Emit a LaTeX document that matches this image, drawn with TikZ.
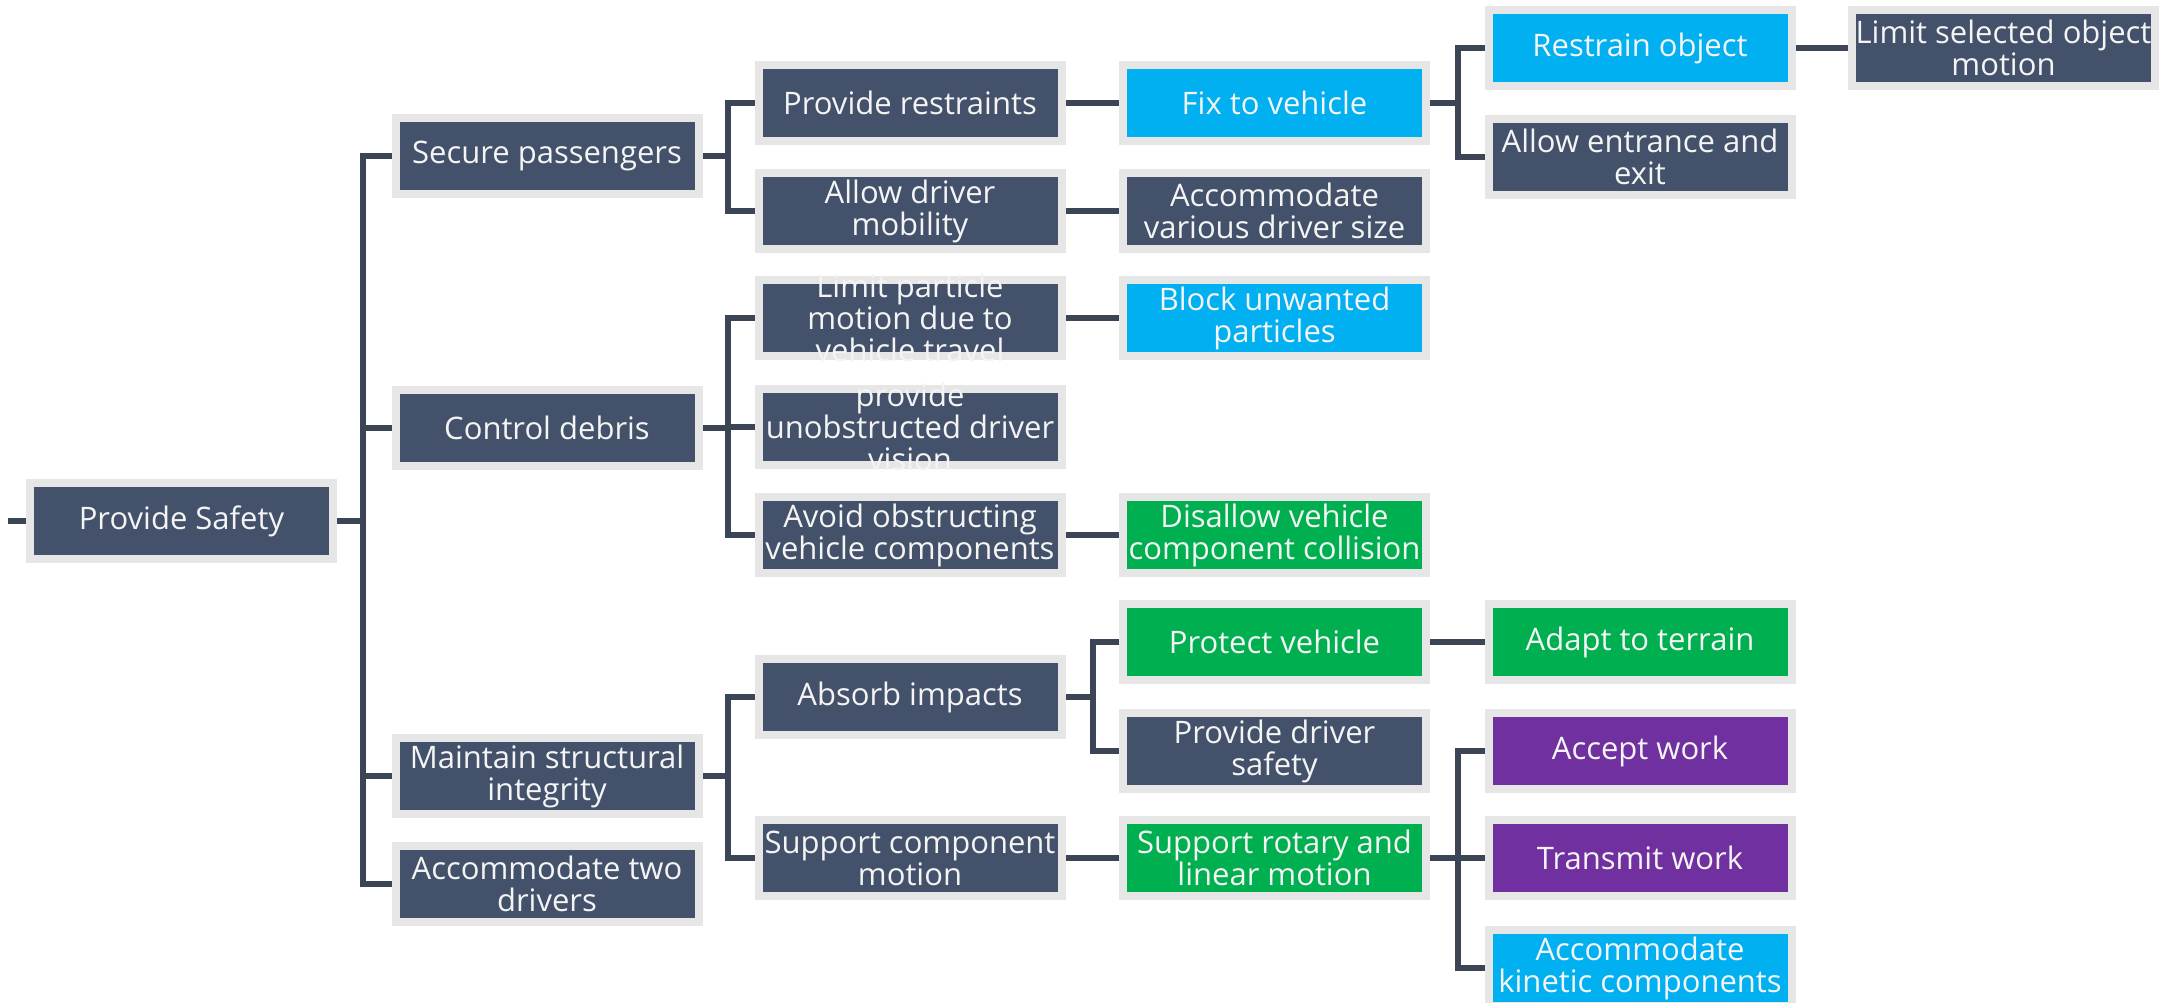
\documentclass[tikz,border=0pt]{standalone}
\usepackage{fontspec}
\setmainfont{Open Sans}
\definecolor{dk}{HTML}{43526A}
\definecolor{cy}{HTML}{00B0F0}
\definecolor{gr}{HTML}{00B050}
\definecolor{pu}{HTML}{7030A0}
\definecolor{bordergray}{HTML}{E6E6E6}
\definecolor{linecol}{HTML}{3B4556}
\definecolor{txtwhite}{HTML}{F4F4F4}
\pgfdeclarelayer{bg}
\pgfdeclarelayer{lines}
\pgfsetlayers{bg,lines,main}
\tikzset{
  boxshape/.style={rectangle, draw=bordergray, line width=4pt, minimum width=151.5pt, minimum height=38pt, inner sep=0pt},
  boxtext/.style={text=txtwhite, align=center, font=\fontsize{15.5pt}{16pt}\selectfont, inner sep=0pt},
  conn/.style={draw=linecol, line width=3pt},
}
\newcommand\myBox[5]{\node[boxshape, fill=#4] (#1) at (#2,#3) {};}
\newcommand\myText[2]{\node[boxtext] (#1-t) at (#1.center) {#2};}
\begin{document}
\begin{tikzpicture}[x=0.5pt, y=-0.5pt]
\begin{pgfonlayer}{bg}
\fill[white] (0,0) rectangle (2177,1002);
\end{pgfonlayer}
\useasboundingbox (0,0) rectangle (2177,1002);
% boxes
\myBox{ps}{181.5}{521}{dk}{}
\myBox{sp}{547}{156}{dk}{}
\myBox{cd}{547}{428}{dk}{}
\myBox{ms}{547}{776}{dk}{}
\myBox{ad}{547}{884}{dk}{}
\myBox{pr}{910}{103}{dk}{}
\myBox{adm}{910}{211}{dk}{}
\myBox{lp}{910}{318}{dk}{}
\myBox{pu}{910}{427}{dk}{}
\myBox{ao}{910}{535}{dk}{}
\myBox{ai}{910}{697}{dk}{}
\myBox{sc}{910}{858}{dk}{}
\myBox{fv}{1274.5}{103}{cy}{}
\myBox{av}{1274.5}{211}{dk}{}
\myBox{bu}{1274.5}{318}{cy}{}
\myBox{dv}{1274.5}{535}{gr}{}
\myBox{pv}{1274.5}{642}{gr}{}
\myBox{pd}{1274.5}{751}{dk}{}
\myBox{sr}{1274.5}{858}{gr}{}
\myBox{ro}{1640}{48}{cy}{}
\myBox{ae}{1640}{157}{dk}{}
\myBox{at}{1640}{642}{gr}{}
\myBox{aw}{1640}{751}{pu}{}
\myBox{tw}{1640}{858}{pu}{}
\myBox{ak}{1640}{968}{cy}{}
\myBox{ls}{2003.5}{48}{dk}{}
% texts
\myText{ps}{Provide Safety}
\myText{sp}{Secure passengers}
\myText{cd}{Control debris}
\myText{ms}{Maintain structural\\integrity}
\myText{ad}{Accommodate two\\drivers}
\myText{pr}{Provide restraints}
\myText{adm}{Allow driver\\mobility}
\myText{lp}{Limit particle\\motion due to\\vehicle travel}
\myText{pu}{provide\\unobstructed driver\\vision}
\myText{ao}{Avoid obstructing\\vehicle components}
\myText{ai}{Absorb impacts}
\myText{sc}{Support component\\motion}
\myText{fv}{Fix to vehicle}
\myText{av}{Accommodate\\various driver size}
\myText{bu}{Block unwanted\\particles}
\myText{dv}{Disallow vehicle\\component collision}
\myText{pv}{Protect vehicle}
\myText{pd}{Provide driver\\safety}
\myText{sr}{Support rotary and\\linear motion}
\myText{ro}{Restrain object}
\myText{ae}{Allow entrance and\\exit}
\myText{at}{Adapt to terrain}
\myText{aw}{Accept work}
\myText{tw}{Transmit work}
\myText{ak}{Accommodate\\kinetic components}
\myText{ls}{Limit selected object\\motion}
% bracket positions
\coordinate (in0) at (8,521);
\coordinate (bA) at (363,0);
\coordinate (bB) at (728,0);
\coordinate (bC) at (1092.5,0);
\coordinate (bD) at (1457.5,0);
\begin{pgfonlayer}{lines}
\draw[conn] (in0) -- (ps.west);
\foreach \c in {sp,cd,ms,ad} \draw[conn] (ps.east) -- (ps.east -| bA) |- (\c.west);
\foreach \c in {pr,adm} \draw[conn] (sp.east) -- (sp.east -| bB) |- (\c.west);
\foreach \c in {lp,pu,ao} \draw[conn] (cd.east) -- (cd.east -| bB) |- (\c.west);
\foreach \c in {ai,sc} \draw[conn] (ms.east) -- (ms.east -| bB) |- (\c.west);
\draw[conn] (pr) -- (fv);
\draw[conn] (adm) -- (av);
\draw[conn] (lp) -- (bu);
\draw[conn] (ao) -- (dv);
\draw[conn] (sc) -- (sr);
\foreach \c in {ro,ae} \draw[conn] (fv.east) -- (fv.east -| bD) |- (\c.west);
\foreach \c in {pv,pd} \draw[conn] (ai.east) -- (ai.east -| bC) |- (\c.west);
\foreach \c in {aw,tw,ak} \draw[conn] (sr.east) -- (sr.east -| bD) |- (\c.west);
\draw[conn] (ro) -- (ls);
\draw[conn] (pv) -- (at);
\end{pgfonlayer}
\end{tikzpicture}
\end{document}
